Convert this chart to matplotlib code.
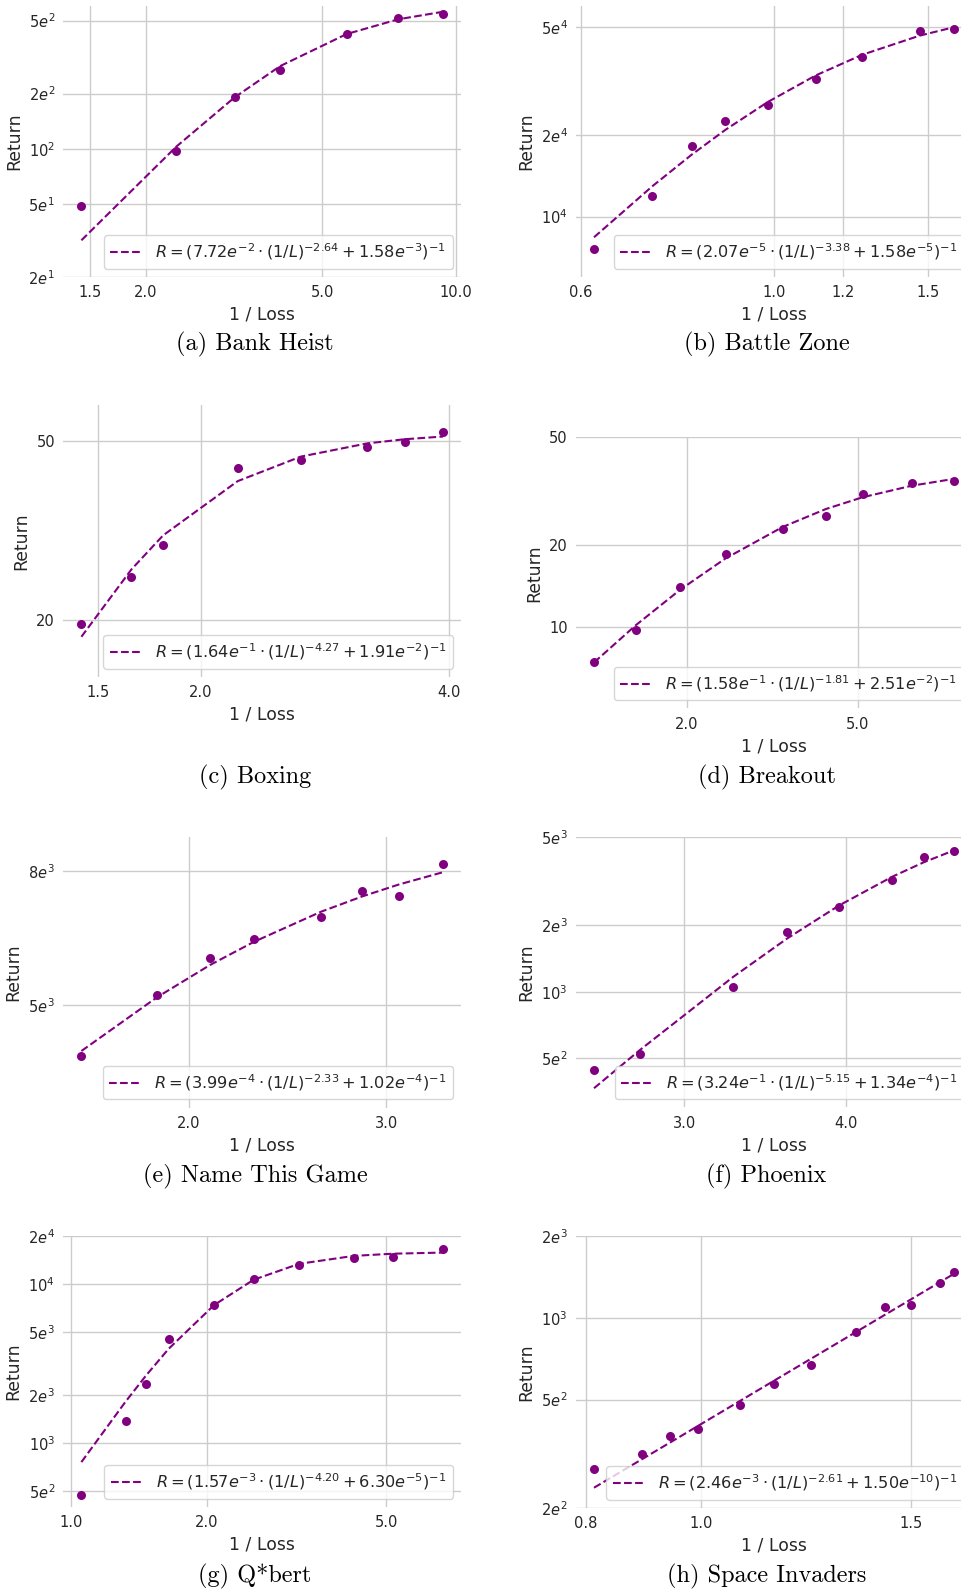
import matplotlib
matplotlib.use("Agg")
import matplotlib.pyplot as plt
from matplotlib import ticker

# ---- data (1/Loss, Return, fitted Return) ----
bank_x = [1.431, 2.344, 3.171, 4.022, 5.675, 7.425, 9.357]
bank_r = [48.6, 96.7, 192.5, 269.8, 421, 517, 543]
bank_fit = [31.7, 102.8, 190.6, 282.6, 422, 508, 558]

battle_x = [0.6214, 0.7251, 0.8040, 0.8794, 0.9835, 1.1163, 1.2612, 1.4688, 1.608]
battle_r = [7621, 11958, 18290, 22500, 25910, 32310, 38750, 48330, 49290]
battle_fit = [8392, 12962, 16926, 20938, 26525, 33253, 39604, 46636, 50108]

boxing_x = [1.433, 1.648, 1.800, 2.216, 2.643, 3.181, 3.535, 3.929]
boxing_r = [19.66, 24.9, 29.43, 43.54, 45.37, 48.5, 49.75, 52.26]
boxing_fit = [18.39, 25.94, 30.85, 40.68, 46.11, 49.33, 50.39, 51.08]

breakout_x = [1.219, 1.526, 1.934, 2.464, 3.348, 4.221, 5.135, 6.686, 8.37]
breakout_r = [7.41, 9.69, 14.01, 18.58, 22.96, 25.71, 30.99, 33.93, 34.51]
breakout_fit = [7.38, 10.14, 13.70, 17.86, 23.35, 27.2, 30.05, 33.15, 35.12]

name_x = [1.605, 1.875, 2.090, 2.287, 2.623, 2.854, 3.077, 3.370]
name_r = [4184, 5184, 5900, 6303, 6806, 7459, 7324, 8208]
name_fit = [4264, 5147, 5760, 6246, 6936, 7317, 7629, 7966]

phoenix_x = [2.553, 2.772, 3.272, 3.601, 3.953, 4.346, 4.596, 4.852]
phoenix_r = [444, 523, 1053, 1867, 2421, 3206, 4074, 4322]
phoenix_fit = [366, 546, 1167, 1738, 2458, 3316, 3851, 4365]

qbert_x = [1.056, 1.323, 1.471, 1.648, 2.080, 2.543, 3.208, 4.244, 5.189, 6.683]
qbert_r = [471.7, 1377, 2363, 4498, 7420, 10686, 13152, 14614, 14826, 16570]
qbert_fit = [762, 1825, 2677, 3914, 7381, 10625, 13378, 15009, 15490, 15738]

space_x = [0.8131, 0.8919, 0.9407, 0.9942, 1.0787, 1.1511, 1.2363, 1.3493, 1.4263, 1.5001, 1.5846, 1.6289]
space_r = [277.8, 314.5, 368.6, 390.2, 476.6, 569.4, 673, 890, 1098, 1119, 1338, 1472]
space_fit = [236.9, 301.6, 346.5, 400.4, 495.4, 586.9, 707.1, 888.4, 1027, 1171, 1351.5, 1452]

captions = ["(a) Bank Heist", "(b) Battle Zone", "(c) Boxing", "(d) Breakout",
            "(e) Name This Game", "(f) Phoenix", "(g) Q*bert", "(h) Space Invaders"]

fit_labels = [
    r"$R = (7.72e^{-2} \cdot (1/L)^{-2.64} + 1.58e^{-3})^{-1}$",
    r"$R = (2.07e^{-5} \cdot (1/L)^{-3.38} + 1.58e^{-5})^{-1}$",
    r"$R = (1.64e^{-1} \cdot (1/L)^{-4.27} + 1.91e^{-2})^{-1}$",
    r"$R = (1.58e^{-1} \cdot (1/L)^{-1.81} + 2.51e^{-2})^{-1}$",
    r"$R = (3.99e^{-4} \cdot (1/L)^{-2.33} + 1.02e^{-4})^{-1}$",
    r"$R = (3.24e^{-1} \cdot (1/L)^{-5.15} + 1.34e^{-4})^{-1}$",
    r"$R = (1.57e^{-3} \cdot (1/L)^{-4.20} + 6.30e^{-5})^{-1}$",
    r"$R = (2.46e^{-3} \cdot (1/L)^{-2.61} + 1.50e^{-10})^{-1}$",
]

xticks = [[1.5, 2.0, 5.0, 10.0], [0.6, 1.0, 1.2, 1.5], [1.5, 2.0, 4.0], [2.0, 5.0],
          [2.0, 3.0], [3.0, 4.0], [1.0, 2.0, 5.0], [0.8, 1.0, 1.5]]
yticks = [[20, 50, 100, 200, 500], [1e4, 2e4, 5e4], [20, 50], [10, 20, 50],
          [5e3, 8e3], [5e2, 1e3, 2e3, 5e3], [5e2, 1e3, 2e3, 5e3, 1e4, 2e4], [2e2, 5e2, 1e3, 2e3]]
ytick_labels = [
    [r"$2e^{1}$", r"$5e^{1}$", r"$10^{2}$", r"$2e^{2}$", r"$5e^{2}$"],
    [r"$10^{4}$", r"$2e^{4}$", r"$5e^{4}$"],
    ["20", "50"],
    ["10", "20", "50"],
    [r"$5e^{3}$", r"$8e^{3}$"],
    [r"$5e^{2}$", r"$10^{3}$", r"$2e^{3}$", r"$5e^{3}$"],
    [r"$5e^{2}$", r"$10^{3}$", r"$2e^{3}$", r"$5e^{3}$", r"$10^{4}$", r"$2e^{4}$"],
    [r"$2e^{2}$", r"$5e^{2}$", r"$10^{3}$", r"$2e^{3}$"],
]
ylims = [(20, 600), (6e3, 6e4), (15, 60), (5, 50), (3500, 9000), (300, 5000), (400, 2e4), (200, 2000)]

panels = [(bank_x, bank_r, bank_fit), (battle_x, battle_r, battle_fit),
          (boxing_x, boxing_r, boxing_fit), (breakout_x, breakout_r, breakout_fit),
          (name_x, name_r, name_fit), (phoenix_x, phoenix_r, phoenix_fit),
          (qbert_x, qbert_r, qbert_fit), (space_x, space_r, space_fit)]

# axes boxes in pixels: left, top, right, bottom  (each sub-figure was its own plot)
W, H = 961, 1591
boxes = [(63.3, 6, 461, 277), (576, 6, 972, 276.7),
         (63.3, 405, 461, 676.7), (576, 437.3, 972, 708.3),
         (63.3, 837.3, 461, 1107.5), (576, 837.3, 972, 1107.3),
         (63.3, 1236, 461, 1506.7), (576, 1236, 972, 1507.7)]
caption_pos = [(255, 344), (766.5, 344), (255, 777), (766.5, 777),
               (255, 1176), (766.5, 1176), (255, 1576), (766.5, 1576)]

plt.rcParams.update({
    "font.family": "DejaVu Sans",
    "text.color": ".15",
    "axes.labelcolor": ".15",
    "xtick.color": ".15",
    "ytick.color": ".15",
    "grid.color": ".8",
    "grid.linewidth": 1.0,
})

fig = plt.figure(figsize=(W / 100, H / 100), dpi=100)
purple = "#800080"

for i, (xs, rs, fs) in enumerate(panels):
    l, t, r, b = boxes[i]
    ax = fig.add_axes([l / W, 1 - b / H, (r - l) / W, (b - t) / H])
    ax.set_xscale("log")
    ax.set_yscale("log")
    ax.plot(xs, fs, "--", color=purple, lw=1.5, label=fit_labels[i])
    ax.plot(xs, rs, "o", color=purple, ms=6.5, mew=0)
    ax.set_ylim(*ylims[i])

    ax.xaxis.set_major_locator(ticker.FixedLocator(xticks[i]))
    ax.xaxis.set_major_formatter(ticker.FixedFormatter(["%.1f" % v for v in xticks[i]]))
    ax.xaxis.set_minor_locator(ticker.NullLocator())
    ax.yaxis.set_major_locator(ticker.FixedLocator(yticks[i]))
    ax.yaxis.set_major_formatter(ticker.FixedFormatter(ytick_labels[i]))
    ax.yaxis.set_minor_locator(ticker.NullLocator())
    ax.tick_params(length=0, labelsize=10.5, pad=6)

    for s in ax.spines.values():
        s.set_visible(False)
    ax.grid(True, which="major")
    ax.set_axisbelow(True)

    ax.set_xlabel("1 / Loss", fontsize=12.4, labelpad=4)
    ax.set_ylabel("Return", fontsize=12.4, labelpad=4)
    leg = ax.legend(loc="lower right", fontsize=11.6, frameon=True, borderaxespad=0.5)
    leg.get_frame().set_edgecolor(".8")

    cx, cy = caption_pos[i]
    fig.text(cx / W, 1 - cy / H, captions[i], family="cmr10", fontsize=17.5,
             color="black", ha="center", va="center")

fig.savefig("out.png", dpi=100, facecolor="white")
